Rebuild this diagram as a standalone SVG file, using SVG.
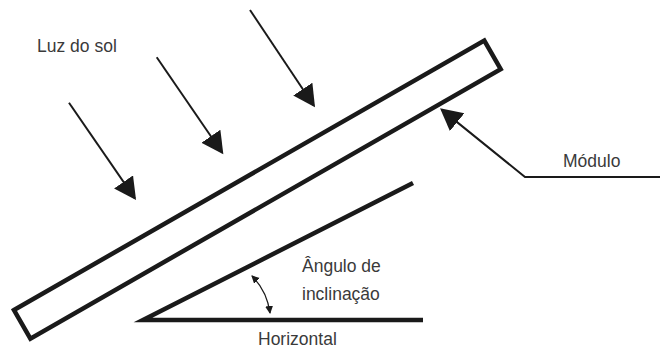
<svg xmlns="http://www.w3.org/2000/svg" width="660" height="349" viewBox="0 0 660 349">
<style>
.lbl{font-family:"Liberation Sans",Arial,sans-serif;font-size:17.5px;fill:#3a3a3a}
.thick{fill:none;stroke:#1a1a1a;stroke-width:4.5;stroke-linejoin:miter;stroke-miterlimit:20}
.arr{fill:none;stroke:#1a1a1a;stroke-width:2}
.small{fill:none;stroke:#1a1a1a;stroke-width:1.3}
</style>
<defs>
<marker id="big" markerUnits="userSpaceOnUse" markerWidth="24" markerHeight="24" refX="20" refY="11.5" orient="auto-start-reverse" viewBox="0 0 24 24">
<path d="M0,0 L22,11.5 L0,23 z" fill="#1a1a1a"/>
</marker>
<marker id="sm" markerUnits="userSpaceOnUse" markerWidth="10" markerHeight="10" refX="7" refY="4" orient="auto-start-reverse" viewBox="0 0 10 10">
<path d="M0,0 L8,4 L0,8 z" fill="#1a1a1a"/>
</marker>
</defs>
<g id="module">
<polygon class="thick" points="14,310 484.3,40.6 500.7,69.2 30.4,338.6"/>
</g>
<g id="tilt">
<polyline class="thick" points="413,183 143,320 423,320"/>
</g>
<g id="connectors">
<line class="arr" x1="69" y1="102.7" x2="134.9" y2="198.4" marker-end="url(#big)"/>
<line class="arr" x1="156.7" y1="57.3" x2="222.2" y2="152.7" marker-end="url(#big)"/>
<line class="arr" x1="250" y1="10" x2="313.9" y2="105.7" marker-end="url(#big)"/>
<polyline class="arr" points="441.6,109.6 525,177 660,177" marker-start="url(#big)"/>
<path class="small" d="M252,276 Q267,291 270,313" marker-start="url(#sm)" marker-end="url(#sm)"/>
</g>
<g id="labels">
<text class="lbl" x="37" y="52">Luz do sol</text>
<text class="lbl" x="563" y="167">Módulo</text>
<text class="lbl" x="302" y="272">Ângulo de</text>
<text class="lbl" x="302" y="300">inclinação</text>
<text class="lbl" x="258" y="345">Horizontal</text>
</g>
</svg>
